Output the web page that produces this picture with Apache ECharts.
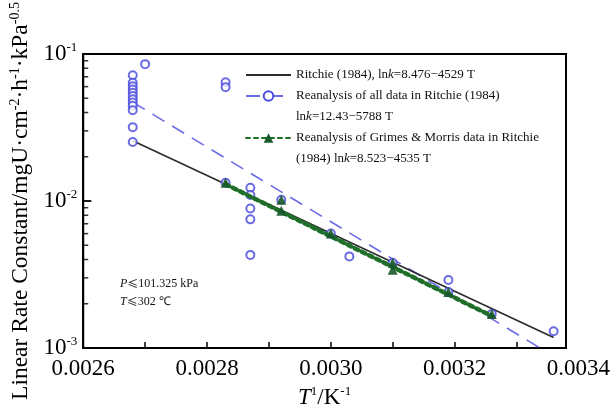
<!DOCTYPE html>
<html>
<head>
<meta charset="utf-8">
<script src="https://cdn.jsdelivr.net/npm/echarts@6/dist/echarts.min.js"></script>
<style>
    html, body { margin: 0; padding: 0; background: #fff; }
    #chart { width: 615px; height: 414px; }
</style>
</head>
<body>
<div id="chart"></div>
<script>
// x = 1/T (K^-1), y = linear rate constant k
const xTickLabels = ['0.0026', '0.0028', '0.0030', '0.0032', '0.0034'];
const yMajorTicks = [0.01];
const yMinorTicks = [
    0.002, 0.003, 0.004, 0.005, 0.006, 0.007, 0.008, 0.009,
    0.02, 0.03, 0.04, 0.05, 0.06, 0.07, 0.08, 0.09
];

// fitted lines (end points)
const ritchieLine = [[0.00268, 0.0257], [0.00336, 0.00118]];
const allDataLine = [[0.00268, 0.047], [0.00337, 0.00083]];
const gmLine = [[0.00283, 0.0130], [0.00326, 0.00165]];

// all data in Ritchie (1984)
const allDataPoints = [
    [0.00268, 0.0716], [0.00268, 0.0637], [0.00268, 0.0604], [0.00268, 0.0574],
    [0.00268, 0.0546], [0.00268, 0.0518], [0.00268, 0.0492], [0.00268, 0.0468],
    [0.00268, 0.0444], [0.00268, 0.0415], [0.00268, 0.0318], [0.00268, 0.0252],
    [0.00270, 0.0853],
    [0.00283, 0.0643], [0.00283, 0.0595], [0.00283, 0.0133],
    [0.00287, 0.0123], [0.00287, 0.0110], [0.00287, 0.0089], [0.00287, 0.0075], [0.00287, 0.0043],
    [0.00292, 0.0102],
    [0.00300, 0.0060],
    [0.00303, 0.0042],
    [0.00310, 0.0038],
    [0.00319, 0.0029], [0.00319, 0.0024],
    [0.00326, 0.0017],
    [0.00336, 0.0013]
];

// Grimes & Morris data
const gmPoints = [
    [0.00283, 0.0133], [0.00292, 0.0102], [0.00292, 0.0086], [0.00300, 0.0060],
    [0.00310, 0.0038], [0.00310, 0.0034], [0.00319, 0.0024], [0.00326, 0.0017]
];

const name1 = 'Ritchie (1984), lnk=8.476\u22124529 T';
const name2 = 'Reanalysis of all data in Ritchie (1984)';
const name2b = 'lnk=12.43\u22125788 T';
const name3 = 'Reanalysis of Grimes & Morris data in Ritchie';
const name3b = '(1984) lnk=8.523\u22124535 T';

const serif = 'Liberation Serif';

// small tick marks on the left frame, placed through the log y scale
function tickSeries(values, len) {
    return {
        type: 'scatter',
        silent: true,
        clip: false,
        symbol: 'rect',
        symbolSize: [len, 1.5],
        symbolOffset: [len / 2, 0],
        itemStyle: { color: '#000' },
        data: values.map(function (v) { return [xTickLabels[0], v]; }),
        z: 7
    };
}

const chart = echarts.init(document.getElementById('chart'));
const option = {
    backgroundColor: '#fff',
    animation: false,
    grid: {
        left: 80,
        top: 54,
        width: 486,
        height: 298,
        show: true,
        borderColor: '#000',
        borderWidth: 2,
        backgroundColor: 'transparent'
    },
    legend: {
        orient: 'vertical',
        left: 240,
        top: 63,
        itemWidth: 45,
        itemHeight: 12,
        itemGap: 7,
        selectedMode: false,
        data: [
            { name: name1, itemStyle: { opacity: 0 } },
            name2,
            { name: name2b, icon: 'none' },
            name3,
            { name: name3b, icon: 'none' }
        ],
        formatter: function (n) {
            return n.replace('lnk', 'ln{i|k}');
        },
        textStyle: {
            color: '#111',
            fontFamily: serif,
            fontSize: 13,
            lineHeight: 14,
            rich: {
                i: { fontStyle: 'italic', fontFamily: serif, fontSize: 13, color: '#111' }
            }
        }
    },
    xAxis: {
        type: 'value',
        min: 0.0026,
        max: 0.00338,
        interval: 0.0001,
        name: '{it|T}{s|1}{m|/K}{s|-1}',
        nameLocation: 'middle',
        nameGap: 37,
        nameTextStyle: {
            rich: {
                it: { fontFamily: serif, fontStyle: 'italic', fontSize: 23, color: '#000', lineHeight: 25 },
                m: { fontFamily: serif, fontSize: 23, color: '#000', lineHeight: 25 },
                s: { fontFamily: serif, fontSize: 13, color: '#000', verticalAlign: 'top', lineHeight: 13 }
            }
        },
        axisLine: { show: true, lineStyle: { color: '#000', width: 2 } },
        axisTick: { show: true, inside: true, length: 6, lineStyle: { color: '#000', width: 1.5 } },
        axisLabel: {
            color: '#000',
            fontFamily: serif,
            fontSize: 23,
            margin: 9,
            formatter: function (v) {
                const s = v.toFixed(4);
                return (xTickLabels.includes(s) && Math.abs(v - parseFloat(s)) < 1e-9) ? s : '';
            }
        },
        splitLine: { show: false }
    },
    yAxis: {
        type: 'log',
        logBase: 10,
        min: 0.001,
        max: 0.1,
        name: '{m|Linear Rate Constant/mgU·cm}{s|-2}{m|·h}{s|-1}{m|·kPa}{s|-0.5}',
        nameLocation: 'middle',
        nameRotate: 90,
        nameGap: 50,
        nameTextStyle: {
            rich: {
                m: { fontFamily: serif, fontSize: 23.5, color: '#000', lineHeight: 25 },
                s: { fontFamily: serif, fontSize: 14, color: '#000', verticalAlign: 'top', lineHeight: 13 }
            }
        },
        axisLine: { show: true, lineStyle: { color: '#000', width: 2 } },
        axisTick: { show: true, inside: true, length: 8, lineStyle: { color: '#000', width: 1.5 } },
        axisLabel: {
            margin: 6,
            formatter: function (v) {
                return '{b|10}{s|' + Math.round(Math.log10(v)) + '}';
            },
            rich: {
                b: { fontFamily: serif, fontSize: 23, color: '#000', lineHeight: 25 },
                s: { fontFamily: serif, fontSize: 13, color: '#000', verticalAlign: 'top', lineHeight: 13 }
            }
        },
        splitLine: { show: false }
    },
    series: [
        tickSeries(yMinorTicks, 5),
        tickSeries(yMajorTicks, 8),
        {
            name: name1,
            type: 'line',
            data: ritchieLine,
            symbol: 'circle',
            showSymbol: false,
            lineStyle: { color: '#2b2b2b', width: 1.6 },
            itemStyle: { color: '#2b2b2b' },
            z: 3
        },
        {
            name: name2,
            type: 'line',
            data: allDataLine,
            symbol: 'emptyCircle',
            showSymbol: false,
            lineStyle: { color: '#6b6be6', width: 1.6, type: [14, 9] },
            itemStyle: { color: '#4d4de3' },
            z: 2
        },
        {
            name: name2,
            type: 'scatter',
            data: allDataPoints,
            symbol: 'emptyCircle',
            symbolSize: 8,
            itemStyle: { color: '#4646dc', borderWidth: 1.7 },
            z: 4
        },
        {
            name: name3,
            type: 'line',
            data: gmLine,
            symbol: 'triangle',
            showSymbol: false,
            lineStyle: { color: '#1f6f2a', width: 4.5, type: [4, 4], cap: 'round' },
            itemStyle: { color: '#17592a' },
            z: 5
        },
        {
            name: name3,
            type: 'scatter',
            data: gmPoints,
            symbol: 'triangle',
            symbolSize: 10,
            itemStyle: { color: '#17592a', opacity: 0.9 },
            z: 6
        },
        { name: name2b, type: 'scatter', data: [] },
        { name: name3b, type: 'scatter', data: [] }
    ]
};
chart.setOption(option);

// last tick label sits just past the frame
const lastX = chart.convertToPixel({ xAxisIndex: 0 }, 0.0034);
const axisY = chart.convertToPixel({ yAxisIndex: 0 }, 0.001);
chart.setOption({
    graphic: [
        {
            type: 'text',
            x: lastX,
            y: axisY + 9,
            style: {
                text: xTickLabels[xTickLabels.length - 1],
                fill: '#000',
                font: '23px "Liberation Serif"',
                align: 'center',
                verticalAlign: 'top'
            }
        },
        {
            type: 'text',
            left: 120,
            top: 275,
            style: {
                text: '{i|P}{le|\u2264}101.325 kPa\n{i|T}{le|\u2264}302 \u2103',
                fill: '#111',
                font: '12px "Liberation Serif"',
                lineHeight: 18,
                rich: {
                    i: { fontStyle: 'italic', fontFamily: serif, fontSize: 12, fill: '#111' },
                    le: { fontFamily: 'Noto Sans CJK SC', fontSize: 11, fill: '#111' }
                }
            }
        }
    ]
});
</script>
</body>
</html>
